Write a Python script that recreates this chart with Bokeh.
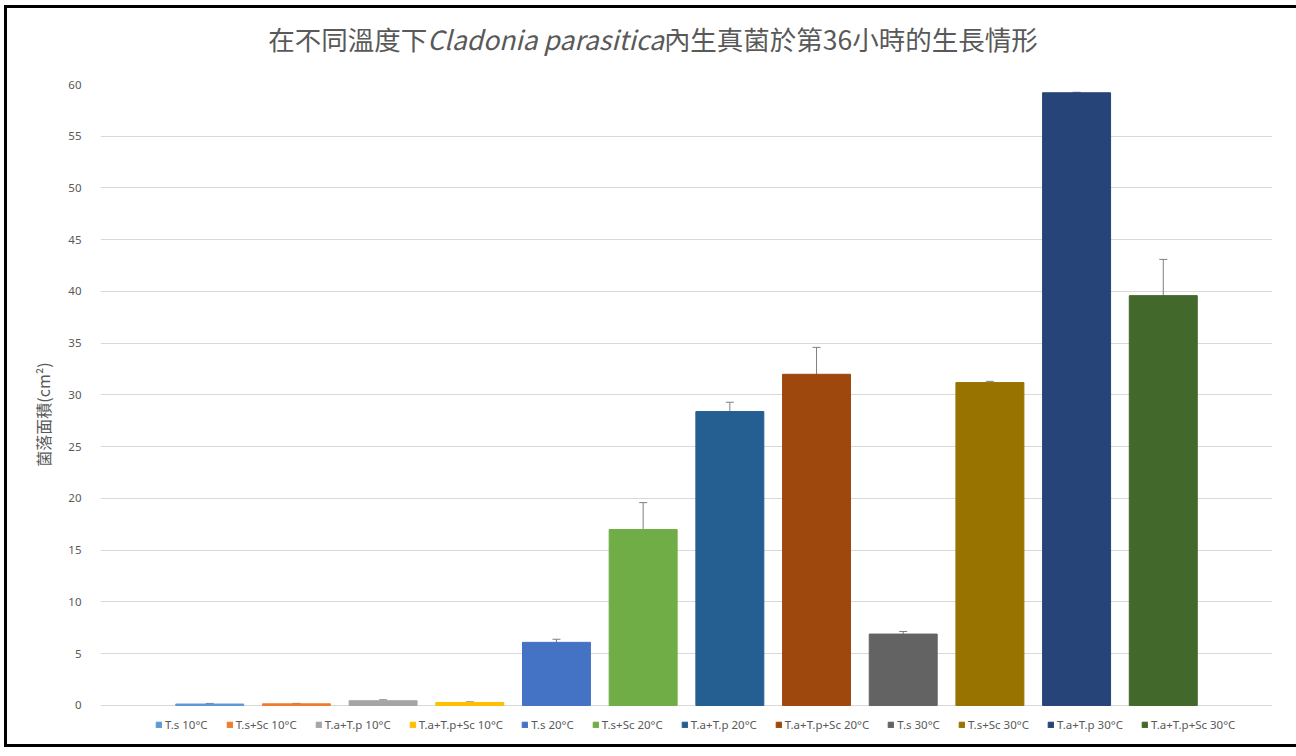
from bokeh.plotting import figure
from bokeh.models import (ColumnDataSource, FactorRange, Range1d, Whisker, TeeHead,
                          SingleIntervalTicker, Div, Legend, LegendItem)
from bokeh.layouts import column
from bokeh.embed import file_html
from bokeh.resources import INLINE

# ---- data ----
series = ["T.s 10°C", "T.s+Sc 10°C", "T.a+T.p 10°C", "T.a+T.p+Sc 10°C",
          "T.s 20°C", "T.s+Sc 20°C", "T.a+T.p 20°C", "T.a+T.p+Sc 20°C",
          "T.s 30°C", "T.s+Sc 30°C", "T.a+T.p 30°C", "T.a+T.p+Sc 30°C"]
means = [0.14, 0.16, 0.46, 0.29, 6.1, 17.0, 28.4, 32.0, 6.9, 31.2, 59.2, 39.6]
errors = [0.06, 0.04, 0.09, 0.06, 0.3, 2.6, 0.9, 2.6, 0.25, 0.12, 0.05, 3.5]
colors = ["#5B9BD5", "#ED7D31", "#A5A5A5", "#FFC000", "#4472C4", "#70AD47",
          "#255E91", "#9E480E", "#636363", "#997300", "#264478", "#43682B"]
y_ticks_interval = 5
y_max = 60

W = 1282
TITLE_H = 57
title_html = ('<div style="width:%dpx;text-align:center;font-family:\'Noto Sans CJK TC\';'
              'font-size:26.5px;color:#595959;padding-top:7px;">'
              '在不同溫度下<i>Cladonia parasitica</i>內生真菌於第36小時的生長情形</div>' % W)

src = ColumnDataSource(dict(
    x=series, top=means, color=colors,
    upper=[m + e for m, e in zip(means, errors)],
    lower=[m - e for m, e in zip(means, errors)],
))

# the frame extends below zero to leave room for the legend inside it
p = figure(frame_width=1172, frame_height=660, output_backend="svg", toolbar_location=None,
           x_range=FactorRange(factors=series, range_padding=0.76, range_padding_units="absolute"),
           y_range=Range1d(-3.77, y_max), x_axis_location=None,
           min_border_left=93, min_border_right=17, min_border_top=9, min_border_bottom=0)
p.outline_line_color = None

r = p.vbar(x="x", top="top", bottom=0, width=0.784, color="color", source=src)

w = Whisker(source=src, base="x", upper="upper", lower="lower", dimension="height",
            line_color="#7f7f7f", line_width=1,
            upper_head=TeeHead(size=8, line_color="#7f7f7f", line_width=1),
            lower_head=TeeHead(size=8, line_color="#7f7f7f", line_width=1))
p.add_layout(w)

p.xgrid.grid_line_color = None
p.ygrid.grid_line_color = "#d9d9d9"
p.yaxis.ticker = SingleIntervalTicker(interval=y_ticks_interval)
p.yaxis.axis_line_color = None
p.yaxis.major_tick_line_color = None
p.yaxis.minor_tick_line_color = None
p.yaxis.major_label_text_font = "Noto Sans"
p.yaxis.major_label_text_font_size = "11.5px"
p.yaxis.major_label_text_color = "#595959"
p.yaxis.major_label_standoff = 13
p.yaxis.axis_label = "菌落面積(cm²)"
p.yaxis.axis_label_text_font = "Noto Sans CJK TC"
p.yaxis.axis_label_text_font_style = "normal"
p.yaxis.axis_label_text_font_size = "16px"
p.yaxis.axis_label_text_color = "#595959"
p.yaxis.axis_label_standoff = 10

legend = Legend(items=[LegendItem(label=dict(field="x"), renderers=[r])],
                orientation="horizontal", location=(55, 12),
                label_text_font="Noto Sans", label_text_font_size="11.5px",
                label_text_color="#595959", glyph_width=7, glyph_height=7,
                label_standoff=3, spacing=18, padding=0, margin=0,
                border_line_color=None, background_fill_alpha=0)
p.add_layout(legend, "center")

div = Div(text=title_html, width=W, height=TITLE_H)

layout = column(div, p, styles={"border": "3px solid black", "background-color": "white",
                                "margin-left": "4px", "margin-top": "5px"})

open("out.html", "w").write(file_html(layout, INLINE))
